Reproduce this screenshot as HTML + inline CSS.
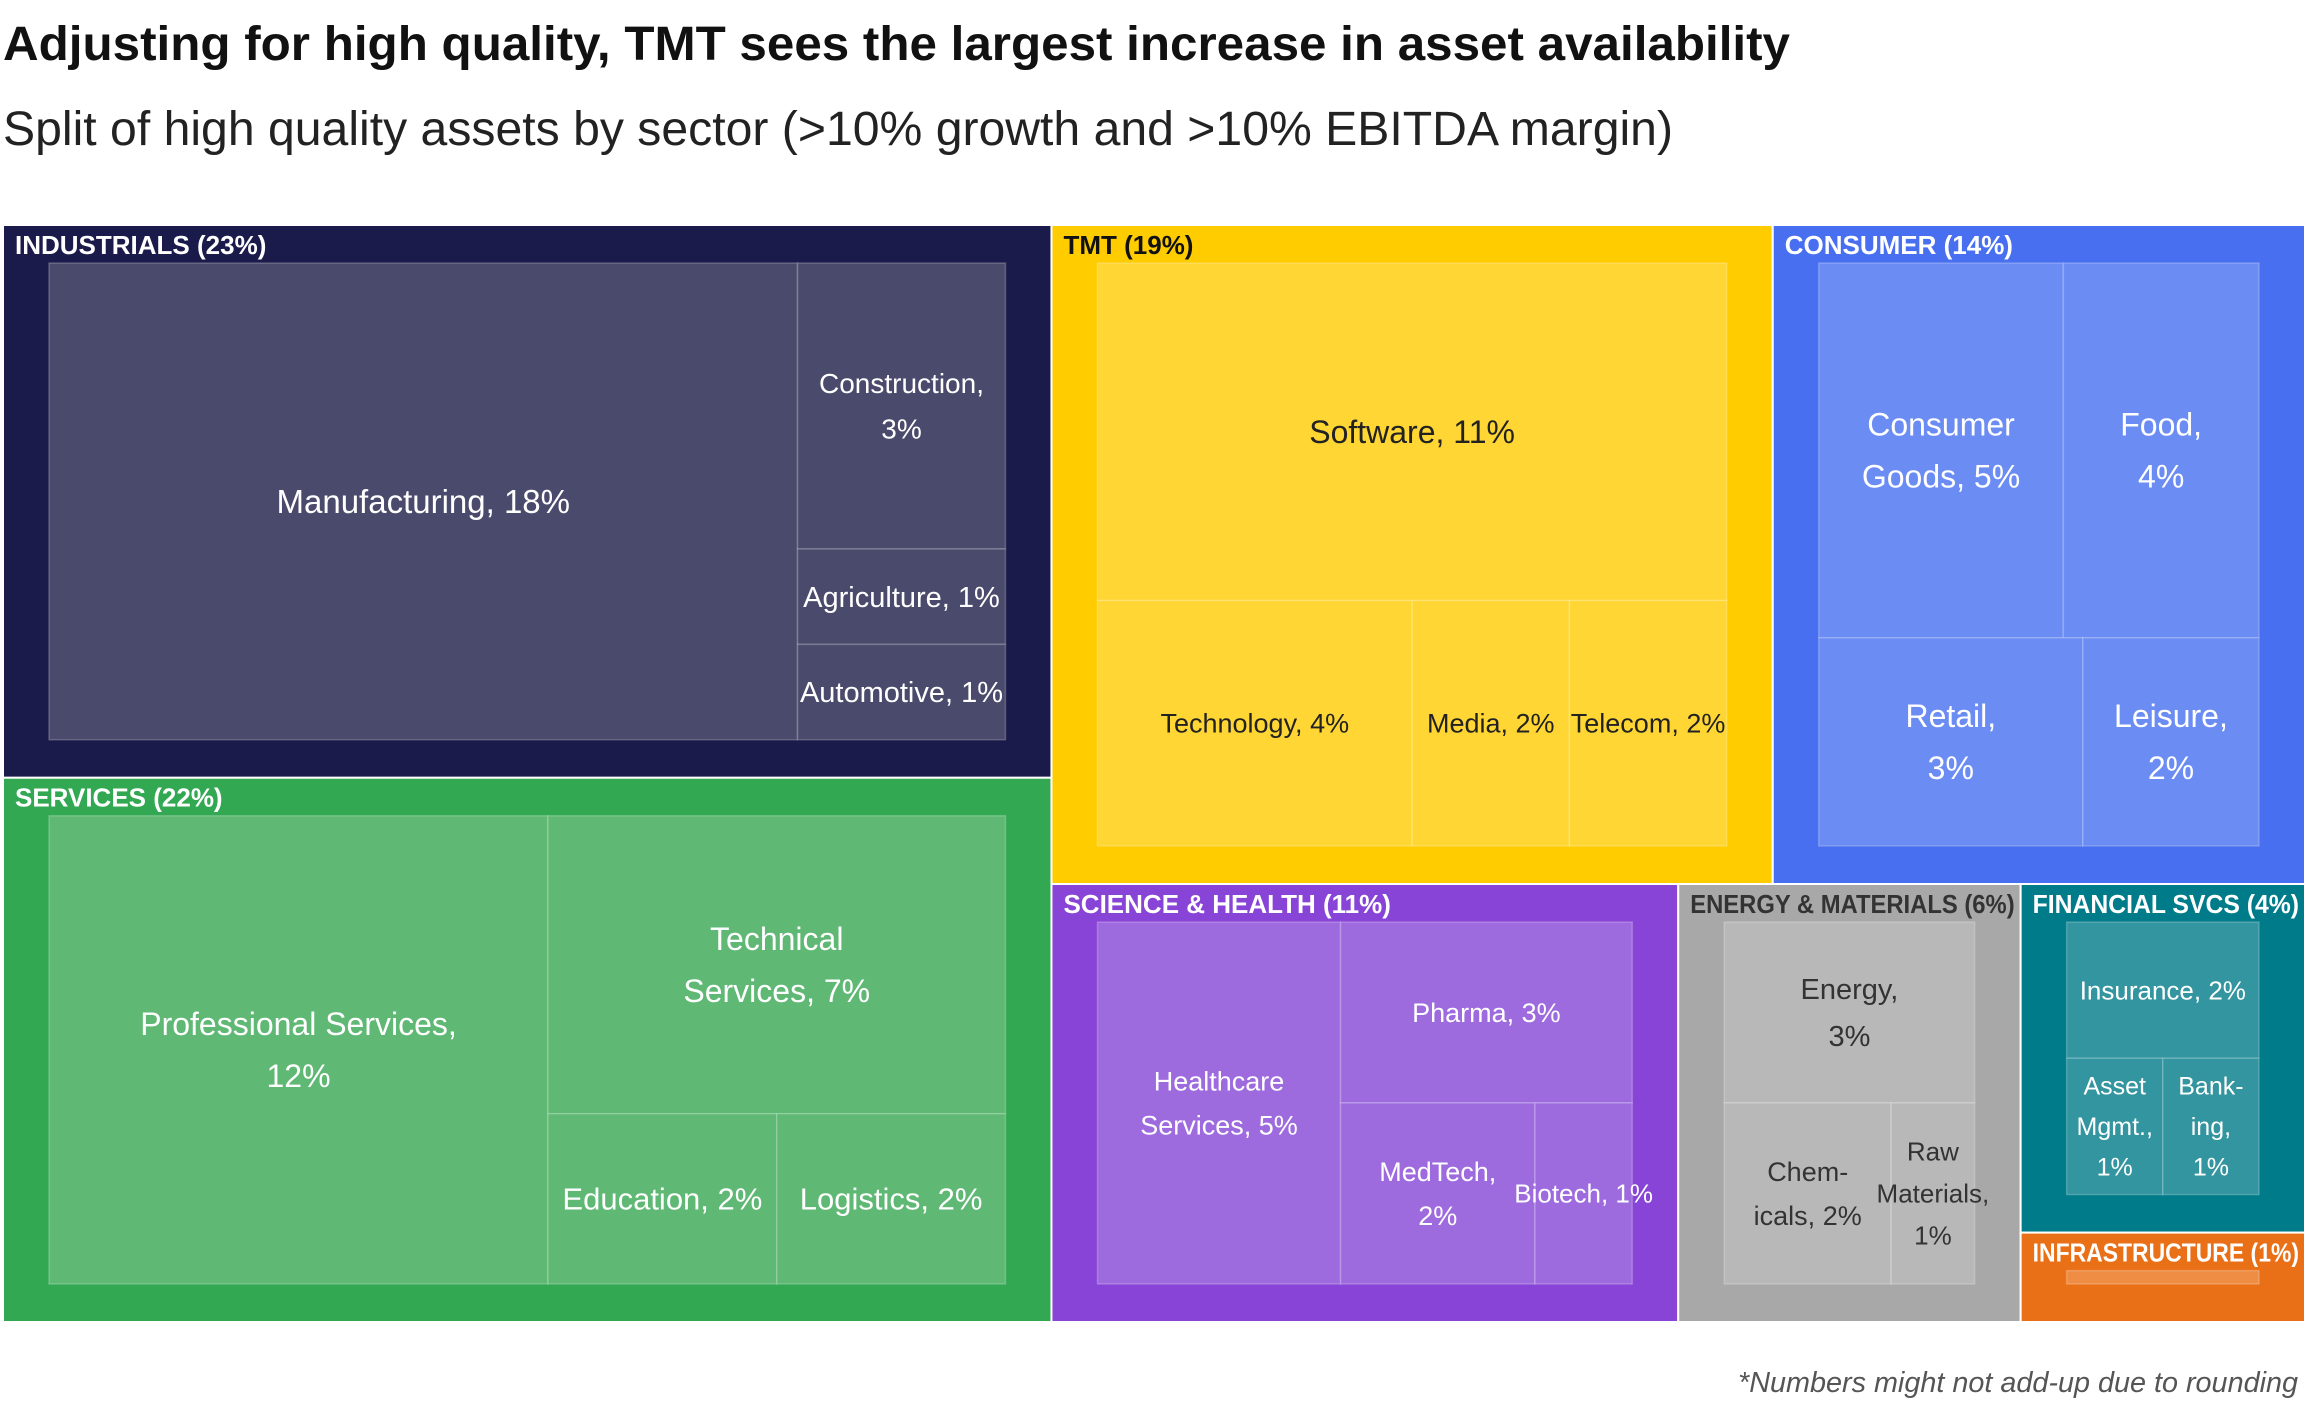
<!DOCTYPE html>
<html><head><meta charset="utf-8">
<style>
html,body{margin:0;padding:0;background:#fff;}
svg{display:block;font-family:"Liberation Sans",sans-serif;}
</style></head>
<body>
<svg id="chart" width="2323" height="1414" viewBox="0 0 2323 1414" xmlns="http://www.w3.org/2000/svg">
<text x="3" y="60" font-size="48" font-weight="bold" fill="#111" textLength="1787" lengthAdjust="spacingAndGlyphs">Adjusting for high quality, TMT sees the largest increase in asset availability</text>
<text x="3" y="145" font-size="48" fill="#222" textLength="1670" lengthAdjust="spacingAndGlyphs">Split of high quality assets by sector  (&gt;10% growth and &gt;10% EBITDA margin)</text>
<g id="tree"></g>
<text x="2298" y="1392" font-size="29" font-style="italic" fill="#555" text-anchor="end" textLength="560" lengthAdjust="spacingAndGlyphs">*Numbers might not add-up due to rounding</text>
</svg>
<script>
const sectors = ['INDUSTRIALS','SERVICES','TMT','CONSUMER','SCIENCE & HEALTH','ENERGY & MATERIALS','FINANCIAL SVCS','INFRASTRUCTURE'];
const sectorValues = [22.8,22.45,18.7,13.8,10.8,5.9,3.9,1.0];
const subNames = [
  ['Manufacturing, ','Construction,\n','Agriculture, ','Automotive, '],
  ['Professional Services,\n','Technical\nServices, ','Education, ','Logistics, '],
  ['Software, ','Technology, ','Media, ','Telecom, '],
  ['Consumer\nGoods, ','Food,\n','Retail,\n','Leisure,\n'],
  ['Healthcare\nServices, ','Pharma, ','MedTech,\n','Biotech, '],
  ['Energy,\n','Chem-\nicals, ','Raw\nMaterials,\n'],
  ['Insurance, ','Asset\nMgmt.,\n','Bank-\ning,\n'],
  ['']
];
const subValues = [
  [18,3,1,1],
  [12,7,2,2],
  [11,4,2,2],
  [5,4,3,2],
  [5,3,2,1],
  [3,2,1],
  [2,1,1],
  [1]
];
const sectorLayout = {d:'h',c:[{d:'v',c:[0,1]},{d:'v',c:[{d:'h',c:[2,3]},{d:'h',c:[4,5,{d:'v',c:[6,7]}]}]}]};
const subLayouts = [
  {d:'h',c:[0,{d:'v',c:[1,2,3]}]},
  {d:'h',c:[0,{d:'v',c:[1,{d:'h',c:[2,3]}]}]},
  {d:'v',c:[0,{d:'h',c:[1,2,3]}]},
  {d:'v',c:[{d:'h',c:[0,1]},{d:'h',c:[2,3]}]},
  {d:'h',c:[0,{d:'v',c:[1,{d:'h',c:[2,3]}]}]},
  {d:'v',c:[0,{d:'h',c:[1,2]}]},
  {d:'v',c:[0,{d:'h',c:[1,2]}]},
  0
];
const outerFill = ['#1b1b4b','#33a852','#ffcc00','#486ff0','#8844d6','#a8a8a8','#007b8a','#ea7017'];
const innerFill = ['#4a4a6c','#5fb874','#ffd633','#6b8cf3','#9e6bdf','#b8b8b8','#33959f','#ef8d45'];
const headColor = ['#fff','#fff','#111','#fff','#fff','#333','#fff','#fff'];
const subColor = ['#fff','#fff','#222','#fff','#fff','#333','#fff','#fff'];
const subSize = [[33,28,29,29],[32,32,31,31],[32,27,27,27],[32,32,32,32],[27,27,27,26],[29,27,26],[26,25,25],[26]];

const X0=3, Y0=225, W=2302, H=1097, PADX=46, PADT=38, PADB=38;
const NS='http://www.w3.org/2000/svg';
const tree=document.getElementById('tree');

function total(node, vals){ return typeof node==='number' ? vals[node] : node.c.reduce((s,c)=>s+total(c,vals),0); }
function layout(node, vals, x, y, w, h, out){
  if(typeof node==='number'){ out.push({i:node,x:x,y:y,w:w,h:h}); return; }
  const t=total(node,vals); let off=0;
  node.c.forEach(c=>{
    const f=total(c,vals)/t;
    if(node.d==='h'){ layout(c,vals,x+off,y,w*f,h,out); off+=w*f; }
    else { layout(c,vals,x,y+off,w,h*f,out); off+=h*f; }
  });
}
function mk(tag, attrs){ const e=document.createElementNS(NS,tag); for(const k in attrs) e.setAttribute(k,attrs[k]); return e; }

const secRects=[]; layout(sectorLayout, sectorValues, X0, Y0, W, H, secRects);
secRects.forEach(r=>{
  const i=r.i;
  const g=mk('g',{});
  
  
  tree.appendChild(g);
  const rect=mk('rect',{x:r.x,y:r.y,width:r.w,height:r.h,fill:outerFill[i],stroke:'#fff','stroke-width':2});
  
  
  g.appendChild(rect);
  const ix=r.x+PADX, iy=r.y+PADT, iw=Math.max(0,r.w-2*PADX), ih=Math.max(0,r.h-PADT-PADB);
  const subs=[]; layout(subLayouts[i], subValues[i], ix, iy, iw, ih, subs);
  subs.forEach(s=>{
    const sr=mk('rect',{x:s.x,y:s.y,width:s.w,height:s.h,fill:innerFill[i],stroke:'rgba(255,255,255,0.22)','stroke-width':1.5});
    
    
    g.appendChild(sr);
    const name=subNames[i][s.i];
    if(!name) return;
    const lines=(name+subValues[i][s.i]+'%').split('\n');
    const fs=subSize[i][s.i], lh=fs*1.62;
    const cx=s.x+s.w/2, cy=s.y+s.h/2;
    const t=mk('text',{x:cx,'text-anchor':'middle','font-size':fs,fill:subColor[i]});
    
    
    lines.forEach((ln,k)=>{
      const ts=mk('tspan',{x:cx,y:cy+(k-(lines.length-1)/2)*lh+fs*0.35});
      ts.textContent=ln; t.appendChild(ts);
    });
    g.appendChild(t);
    const bb=t.getBBox();
    if(bb.width>s.w+60){ t.setAttribute('transform','translate('+cx+',0) scale('+((s.w+60)/bb.width)+',1) translate('+(-cx)+',0)'); }
  });
  const lab=mk('text',{x:r.x+12,y:r.y+29,'font-size':26,'font-weight':'bold',fill:headColor[i]});
  
  
  lab.textContent=sectors[i]+' ('+Math.round(sectorValues[i])+'%)';
  g.appendChild(lab);
  const lw=lab.getComputedTextLength();
  if(lw>r.w-18){ lab.setAttribute('textLength', r.w-18); lab.setAttribute('lengthAdjust','spacingAndGlyphs'); }
});
</script>
</body></html>
